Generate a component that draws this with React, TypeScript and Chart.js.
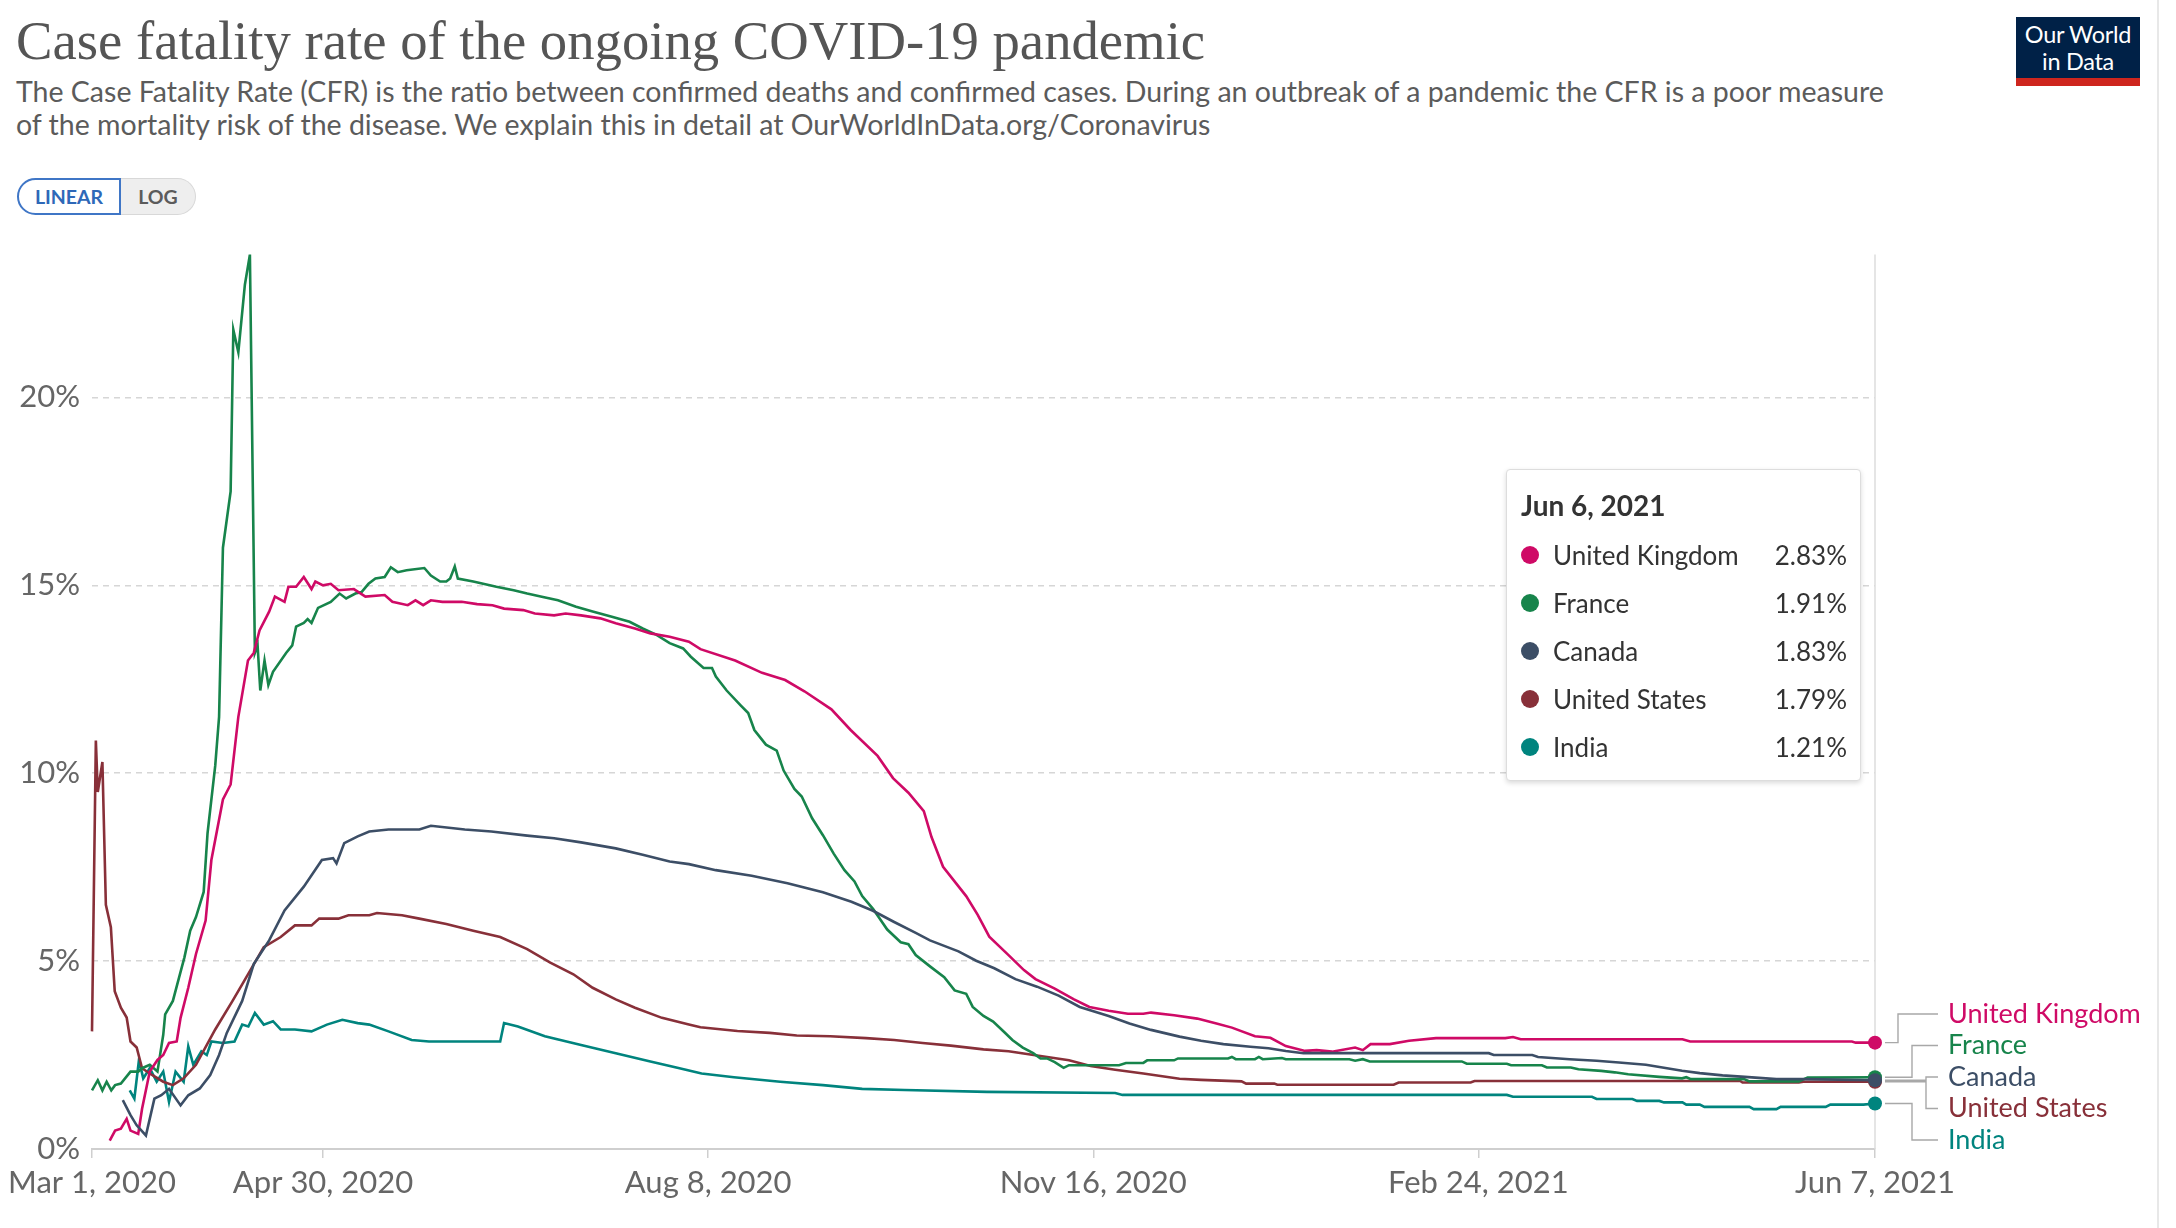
import React, { useEffect, useRef } from "react";
import { Chart, registerables } from "chart.js";

Chart.register(...registerables);

// ---------- text ----------
const chartTitle = "Case fatality rate of the ongoing COVID-19 pandemic";
const subtitleLines = [
  "The Case Fatality Rate (CFR) is the ratio between confirmed deaths and confirmed cases. During an outbreak of a pandemic the CFR is a poor measure",
  "of the mortality risk of the disease. We explain this in detail at OurWorldInData.org/Coronavirus",
];
const hoverDateLabel = "Jun 6, 2021";

// ---------- axes (x = days since Mar 1, 2020) ----------
const xTickDays = [0, 60, 160, 260, 360, 463];
const xTickLabels = ["Mar 1, 2020", "Apr 30, 2020", "Aug 8, 2020", "Nov 16, 2020", "Feb 24, 2021", "Jun 7, 2021"];
const yTickValues = [0, 5, 10, 15, 20];

// ---------- series ----------
const seriesNames = ["United Kingdom", "France", "Canada", "United States", "India"];
const seriesColors = ["#CF0A66", "#17844B", "#3C4E66", "#883039", "#00847E"];

const ukDays = [4.6, 6, 7.5, 9, 10, 12, 13, 15, 17, 18.5, 20, 22, 23, 25, 27, 29.5, 31, 34, 36, 38, 40.5, 42, 43.5, 46, 47.5, 50, 51, 53, 55, 57, 58, 60, 62, 64, 68, 71, 76, 78, 82, 84, 86, 88, 91, 96, 100, 104, 107, 112, 115, 120, 123, 127, 132, 136, 141, 145, 150, 155, 158, 167, 174, 180, 185, 192, 197, 204, 208, 212, 216, 218, 221, 227, 230, 233, 238, 242, 245, 250, 255, 259, 264, 269, 273, 275, 281, 287, 292, 296, 302, 306, 310, 315, 318, 322, 328, 330, 332, 337, 342, 349, 367, 369, 371, 413, 415, 457, 458, 463];
const ukValues = [0.22, 0.49, 0.54, 0.8, 0.49, 0.4, 1.07, 2.06, 2.37, 2.5, 2.82, 2.86, 3.49, 4.29, 5.19, 6.08, 7.69, 9.3, 9.7, 11.5, 13.0, 13.2, 13.8, 14.3, 14.7, 14.56, 14.96, 14.96, 15.22, 14.9, 15.1, 15.0, 15.04, 14.87, 14.9, 14.7, 14.74, 14.56, 14.47, 14.6, 14.47, 14.6, 14.56, 14.56, 14.5, 14.47, 14.38, 14.34, 14.25, 14.2, 14.25, 14.2, 14.12, 13.99, 13.85, 13.72, 13.63, 13.5, 13.3, 13.0, 12.67, 12.48, 12.18, 11.7, 11.15, 10.46, 9.87, 9.48, 8.99, 8.3, 7.51, 6.73, 6.23, 5.65, 5.16, 4.76, 4.52, 4.27, 3.98, 3.78, 3.68, 3.6, 3.6, 3.63, 3.56, 3.47, 3.34, 3.23, 3.0, 2.96, 2.74, 2.61, 2.63, 2.59, 2.7, 2.63, 2.79, 2.79, 2.88, 2.95, 2.95, 2.98, 2.92, 2.92, 2.86, 2.86, 2.83, 2.83];

const frDays = [0, 1.5, 2.7, 3.8, 5, 6, 7.5, 10, 12, 13, 15, 17, 18.5, 19, 21, 22.6, 24, 25.5, 27, 29, 30, 32, 33, 34, 36, 36.7, 38, 39.7, 41, 42.3, 43, 43.7, 44.8, 45.8, 47, 50.4, 52, 53, 55, 56, 57, 58.7, 62, 64.3, 66, 68.4, 70, 71.8, 73.6, 76, 77.6, 79.4, 81.7, 86.3, 88, 90.4, 92, 93, 94.2, 95, 99, 105, 109.5, 113, 116.5, 121, 125.7, 130, 135, 139.6, 143, 146.6, 150, 153.5, 155.5, 158.8, 161, 162, 164.8, 168.5, 170.4, 172, 175, 177.8, 179.6, 182.4, 184.3, 187, 189.8, 192.6, 195.4, 198, 200, 202.8, 206.5, 210, 212, 213.9, 217.6, 221.3, 224, 227, 228.7, 231.5, 234, 237, 239, 241.7, 244.4, 246.3, 248, 250, 252.3, 253.7, 266.7, 268.5, 273, 274, 281, 282, 295, 296, 297, 302, 303, 304, 309, 310, 326.5, 328, 330, 331.8, 355.7, 357, 367.4, 368.5, 376.5, 377.8, 384, 386, 391.9, 395.4, 398.9, 407, 412.9, 414, 415.2, 429, 430.4, 443.2, 445.5, 463];
const frValues = [1.56, 1.83, 1.56, 1.79, 1.56, 1.7, 1.74, 2.06, 2.06, 2.15, 2.24, 2.06, 3.04, 3.58, 3.94, 4.56, 5.1, 5.81, 6.17, 6.84, 8.4, 10.2, 11.5, 16.0, 17.5, 21.8, 21.2, 23.0, 23.8, 13.2, 13.4, 12.2, 13.0, 12.35, 12.7, 13.2, 13.4, 13.9, 14.0, 14.1, 14.0, 14.4, 14.56, 14.78, 14.65, 14.78, 14.82, 15.04, 15.18, 15.22, 15.48, 15.35, 15.4, 15.46, 15.26, 15.1, 15.1, 15.18, 15.5, 15.18, 15.1, 14.96, 14.87, 14.78, 14.7, 14.6, 14.43, 14.3, 14.16, 14.03, 13.85, 13.68, 13.46, 13.32, 13.1, 12.8, 12.8, 12.57, 12.2, 11.8, 11.6, 11.15, 10.76, 10.6, 10.07, 9.58, 9.38, 8.8, 8.35, 7.86, 7.42, 7.12, 6.73, 6.39, 5.84, 5.5, 5.45, 5.16, 4.86, 4.57, 4.22, 4.13, 3.78, 3.54, 3.39, 3.1, 2.9, 2.7, 2.55, 2.41, 2.41, 2.31, 2.16, 2.23, 2.23, 2.29, 2.29, 2.36, 2.36, 2.41, 2.41, 2.45, 2.39, 2.39, 2.45, 2.39, 2.42, 2.39, 2.39, 2.35, 2.39, 2.33, 2.33, 2.27, 2.27, 2.23, 2.23, 2.17, 2.17, 2.12, 2.08, 2.04, 1.99, 1.92, 1.88, 1.91, 1.86, 1.86, 1.8, 1.8, 1.9, 1.91];

const caDays = [8, 10, 11.6, 14, 16.2, 18, 20, 23, 25, 28, 30.7, 33, 35, 39, 42, 46, 50, 55, 59.7, 62.6, 63.5, 65.5, 69, 72, 77, 85, 88, 96.8, 103.7, 113, 120, 127, 136, 143, 150, 155, 162, 171.3, 180.6, 189.8, 197.2, 202.8, 208.3, 213.9, 217.6, 225, 229.6, 234.3, 239.8, 245.4, 251, 256.5, 264, 269.4, 275, 282.4, 288, 293.8, 300.8, 305.5, 310, 314.6, 362.7, 364, 374, 375.5, 383.7, 390.7, 396.5, 403.5, 412.9, 417.5, 423.4, 429.2, 437.4, 444.4, 463];
const caValues = [1.3, 0.9, 0.63, 0.36, 1.34, 1.43, 1.6, 1.16, 1.43, 1.61, 1.97, 2.5, 3.09, 3.94, 4.92, 5.55, 6.35, 6.98, 7.69, 7.74, 7.6, 8.14, 8.32, 8.45, 8.5, 8.5, 8.6, 8.5, 8.45, 8.34, 8.27, 8.16, 8.0, 7.83, 7.65, 7.58, 7.42, 7.27, 7.07, 6.83, 6.58, 6.34, 6.04, 5.75, 5.55, 5.26, 5.01, 4.81, 4.52, 4.32, 4.08, 3.78, 3.54, 3.34, 3.17, 2.99, 2.88, 2.79, 2.72, 2.68, 2.61, 2.55, 2.55, 2.5, 2.5, 2.45, 2.39, 2.35, 2.3, 2.24, 2.08, 2.02, 1.96, 1.92, 1.86, 1.86, 1.83];

const usDays = [0, 1, 1.5, 2.7, 3.6, 4.9, 5.9, 7.5, 9, 10, 11.6, 13, 15.6, 18.5, 21, 23.8, 27, 32, 36.5, 39, 44.6, 49, 52.7, 57, 59, 64, 66.6, 72, 74, 80.5, 85, 92, 99, 106, 113, 119, 125, 130, 136, 141, 148, 155, 158, 167.6, 176, 183, 191.7, 201, 208.3, 215.7, 223, 231.5, 238, 245.4, 253.7, 259.3, 265.7, 273, 282.4, 288, 298.5, 299.7, 307, 307.8, 338, 339.3, 358, 359, 428, 428.6, 443.2, 444.4, 463];
const usValues = [3.13, 10.87, 9.5, 10.3, 6.5, 5.9, 4.2, 3.76, 3.5, 2.86, 2.7, 2.15, 1.97, 1.79, 1.7, 1.88, 2.24, 3.18, 3.94, 4.38, 5.37, 5.64, 5.95, 5.95, 6.13, 6.13, 6.22, 6.22, 6.28, 6.22, 6.13, 5.99, 5.81, 5.64, 5.32, 4.96, 4.65, 4.29, 3.98, 3.76, 3.49, 3.31, 3.24, 3.14, 3.09, 3.02, 3.0, 2.95, 2.9, 2.82, 2.75, 2.65, 2.6, 2.49, 2.36, 2.21, 2.11, 2.01, 1.87, 1.84, 1.8, 1.74, 1.74, 1.71, 1.71, 1.77, 1.77, 1.81, 1.81, 1.77, 1.77, 1.79, 1.79];

const inDays = [9.8, 11, 12.2, 13.3, 15, 16.8, 18.5, 20, 21.7, 23.8, 25, 26.3, 28.4, 29.8, 31, 34, 37, 39, 40.6, 42.3, 44.6, 47, 49, 52.7, 57, 61, 65, 69, 72, 77, 83, 87.5, 106, 107, 110.6, 117.6, 127, 136, 145, 152, 158.3, 166.7, 178.7, 189.8, 200, 211, 232.4, 265.7, 267.6, 367.4, 369, 389.5, 390.7, 400, 401.2, 407, 408.2, 413, 414, 417.5, 418.7, 430.4, 431.5, 437.4, 438.5, 450.2, 451.4, 460, 463];
const inValues = [1.56, 1.34, 2.37, 1.88, 2.15, 1.79, 2.06, 1.25, 2.06, 1.79, 2.73, 2.24, 2.6, 2.5, 2.86, 2.82, 2.86, 3.31, 3.26, 3.62, 3.31, 3.4, 3.18, 3.18, 3.13, 3.31, 3.44, 3.35, 3.31, 3.13, 2.9, 2.86, 2.86, 3.35, 3.26, 3.0, 2.77, 2.55, 2.33, 2.16, 2.01, 1.91, 1.79, 1.7, 1.6, 1.57, 1.52, 1.49, 1.44, 1.44, 1.39, 1.39, 1.33, 1.33, 1.28, 1.28, 1.24, 1.24, 1.18, 1.18, 1.12, 1.12, 1.06, 1.06, 1.12, 1.12, 1.18, 1.18, 1.21];

const seriesDays = [ukDays, frDays, caDays, usDays, inDays];
const seriesValues = [ukValues, frValues, caValues, usValues, inValues];

// ---------- layout constants (styling) ----------
const CANVAS_TOP = 224;
const CANVAS_H = 1228 - CANVAS_TOP;
const PLOT_LEFT = 92;
const PLOT_RIGHT = 1875;
const PLOT_TOP = 254;
const PLOT_BOTTOM = 1149;
const LABEL_GAP = 31.5;
const ELBOWS = [23, 37, 51, 51, 37];
const FONT = "Lato, 'Noto Sans', sans-serif";

function spreadLabels(ys: number[], gap: number): number[] {
  const order = ys.map((_, i) => i).sort((a, b) => ys[a] - ys[b]);
  let clusters = order.map((i) => ({ members: [i], center: ys[i] }));
  let merged = true;
  while (merged) {
    merged = false;
    for (let k = 0; k < clusters.length - 1; k++) {
      const a = clusters[k];
      const b = clusters[k + 1];
      const aBottom = a.center + ((a.members.length - 1) / 2) * gap;
      const bTop = b.center - ((b.members.length - 1) / 2) * gap;
      if (bTop - aBottom < gap) {
        const members = a.members.concat(b.members);
        const center = members.reduce((s, i) => s + ys[i], 0) / members.length;
        clusters.splice(k, 2, { members, center });
        merged = true;
        break;
      }
    }
  }
  const out: number[] = new Array(ys.length).fill(0);
  clusters.forEach((c) =>
    c.members.forEach((i, j) => {
      out[i] = c.center + (j - (c.members.length - 1) / 2) * gap;
    })
  );
  return out;
}

const endLabelPlugin = {
  id: "endLabels",
  beforeDatasetsDraw(chart: any) {
    const { ctx, chartArea, scales } = chart;
    const lastDay = xTickDays[xTickDays.length - 1];
    const x = scales.x.getPixelForValue(lastDay);
    ctx.save();
    ctx.strokeStyle = "#dcdcdc";
    ctx.lineWidth = 1.5;
    ctx.beginPath();
    ctx.moveTo(x, chartArea.top);
    ctx.lineTo(x, chartArea.bottom);
    ctx.stroke();
    ctx.restore();
  },
  afterDatasetsDraw(chart: any) {
    const { ctx, scales } = chart;
    const dotYs = seriesValues.map((v) => scales.y.getPixelForValue(v[v.length - 1]));
    const dotXs = seriesDays.map((d) => scales.x.getPixelForValue(d[d.length - 1]));
    const labelYs = spreadLabels(dotYs, LABEL_GAP);
    ctx.save();
    ctx.strokeStyle = "#a8a8a8";
    ctx.lineWidth = 1.4;
    seriesNames.forEach((name, i) => {
      const x0 = dotXs[i] + 10;
      const xe = dotXs[i] + ELBOWS[i];
      const x1 = dotXs[i] + 63;
      ctx.beginPath();
      ctx.moveTo(x0, dotYs[i]);
      ctx.lineTo(xe, dotYs[i]);
      ctx.lineTo(xe, labelYs[i]);
      ctx.lineTo(x1, labelYs[i]);
      ctx.stroke();
      ctx.fillStyle = seriesColors[i];
      ctx.font = `27px ${FONT}`;
      ctx.textBaseline = "middle";
      ctx.textAlign = "left";
      ctx.fillText(name, dotXs[i] + 73, labelYs[i]);
    });
    ctx.restore();
  },
};

export default function App() {
  const canvasRef = useRef<HTMLCanvasElement>(null);

  useEffect(() => {
    const canvas = canvasRef.current;
    if (!canvas) return;
    const allValues = seriesValues.flat();
    const yMax = Math.max(...allValues);
    const datasets = seriesNames.map((name, k) => ({
      label: name,
      data: seriesDays[k].map((d, i) => ({ x: d, y: seriesValues[k][i] })),
      borderColor: seriesColors[k],
      backgroundColor: seriesColors[k],
      borderWidth: 2.6,
      pointRadius: (c: any) => (c.dataIndex === seriesDays[k].length - 1 ? 7 : 0),
      pointHoverRadius: 0,
      pointBorderWidth: 0,
      pointBackgroundColor: seriesColors[k],
      tension: 0,
      clip: false as any,
      order: name === "Canada" ? 0 : 1,
    }));

    const chart = new Chart(canvas, {
      type: "line",
      data: { datasets },
      plugins: [endLabelPlugin],
      options: {
        animation: false,
        responsive: false,
        devicePixelRatio: 1,
        events: [],
        layout: { padding: { top: PLOT_TOP - CANVAS_TOP, right: 2176 - PLOT_RIGHT, bottom: 0, left: 0 } },
        plugins: { legend: { display: false }, tooltip: { enabled: false }, title: { display: false } },
        scales: {
          x: {
            type: "linear",
            min: xTickDays[0],
            max: xTickDays[xTickDays.length - 1],
            afterBuildTicks: (scale: any) => {
              scale.ticks = xTickDays.map((v) => ({ value: v }));
            },
            afterFit: (scale: any) => {
              scale.height = CANVAS_H - (PLOT_BOTTOM - CANVAS_TOP);
            },
            ticks: {
              autoSkip: false,
              maxRotation: 0,
              padding: 6,
              color: "#666",
              font: { family: FONT, size: 31 },
              callback: (v: any) => xTickLabels[xTickDays.indexOf(Number(v))] ?? "",
            },
            grid: { drawOnChartArea: false, drawTicks: true, tickLength: 9, color: "#cfcfcf", lineWidth: 1.5 },
            border: { display: true, color: "#cfcfcf", width: 2 },
          },
          y: {
            type: "linear",
            min: 0,
            max: yMax,
            afterBuildTicks: (scale: any) => {
              scale.ticks = yTickValues.map((v) => ({ value: v }));
            },
            afterFit: (scale: any) => {
              scale.width = PLOT_LEFT;
            },
            ticks: {
              padding: 12,
              color: "#666",
              font: { family: FONT, size: 31 },
              callback: (v: any) => `${v}%`,
            },
            grid: {
              drawTicks: false,
              lineWidth: 1.5,
              color: (c: any) => (c.tick && c.tick.value === 0 ? "rgba(0,0,0,0)" : "#d6d6d6"),
            },
            border: { display: false, dash: [6, 5] },
          },
        },
      },
    } as any);
    return () => chart.destroy();
  }, []);

  const lastValues = seriesValues.map((v) => v[v.length - 1]);

  return (
    <div style={{ position: "absolute", left: 0, top: 0, width: 2176, height: 1228, background: "#fff", overflow: "hidden", fontFamily: FONT }}>
      <div style={{ position: "absolute", left: 16, top: 13, fontFamily: "'Liberation Serif', 'DejaVu Serif', serif", fontSize: 54.7, lineHeight: "55px", color: "#555", whiteSpace: "nowrap" }}>
        {chartTitle}
      </div>
      {subtitleLines.map((t, i) => (
        <div key={i} style={{ position: "absolute", left: 16, top: 74.5 + i * 33, fontSize: 28.5, lineHeight: "33px", color: "#5b5b5b", whiteSpace: "nowrap" }}>
          {t}
        </div>
      ))}
      <div style={{ position: "absolute", left: 17, top: 178, height: 37, display: "flex", fontWeight: 700, fontSize: 19.5 }}>
        <div style={{ width: 100, height: 33, border: "2px solid #3f76c6", borderRadius: "19px 0 0 19px", color: "#2e68b8", background: "#fff", display: "flex", alignItems: "center", justifyContent: "center" }}>LINEAR</div>
        <div style={{ width: 74, height: 35, border: "1px solid #d8d8d8", borderLeft: "none", borderRadius: "0 19px 19px 0", color: "#5b5b5b", background: "#eee", display: "flex", alignItems: "center", justifyContent: "center" }}>LOG</div>
      </div>
      <div style={{ position: "absolute", left: 2016, top: 17, width: 124, height: 69, background: "#002147", color: "#fff", textAlign: "center", fontSize: 23.5, lineHeight: "27px", boxSizing: "border-box", paddingTop: 4, letterSpacing: -0.3 }}>
        <div>Our World</div>
        <div>in Data</div>
        <div style={{ position: "absolute", left: 0, bottom: 0, width: 124, height: 8, background: "#ce261e" }} />
      </div>
      <div style={{ position: "absolute", left: 2157, top: 0, width: 2, height: 1228, background: "#e8e8e8" }} />
      <canvas ref={canvasRef} width={2176} height={CANVAS_H} style={{ position: "absolute", left: 0, top: CANVAS_TOP, width: 2176, height: CANVAS_H }} />
      <div style={{ position: "absolute", left: 1506, top: 469, width: 355, height: 312, boxSizing: "border-box", background: "#fff", border: "1px solid #ddd", borderRadius: 4, boxShadow: "0 2px 5px rgba(0,0,0,0.15)", color: "#333" }}>
        <div style={{ position: "absolute", left: 14, top: 17, fontSize: 28, fontWeight: 700, lineHeight: "36px" }}>{hoverDateLabel}</div>
        {seriesNames.map((name, i) => (
          <div key={name} style={{ position: "absolute", left: 0, top: 61 + i * 48, width: 353, height: 48, lineHeight: "48px", fontSize: 26 }}>
            <div style={{ position: "absolute", left: 14, top: 15, width: 18, height: 18, borderRadius: 9, background: seriesColors[i] }} />
            <div style={{ position: "absolute", left: 46 }}>{name}</div>
            <div style={{ position: "absolute", right: 13 }}>{lastValues[i].toFixed(2)}%</div>
          </div>
        ))}
      </div>
    </div>
  );
}
